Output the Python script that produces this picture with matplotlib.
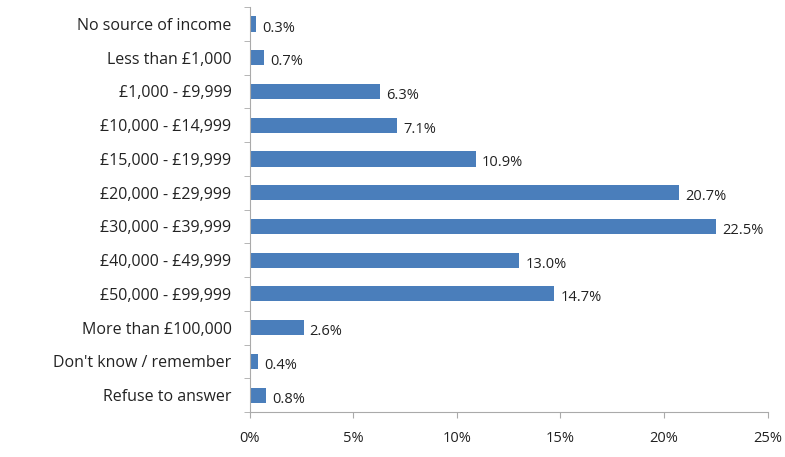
import matplotlib.pyplot as plt
import numpy as np

categories = ["No source of income", "Less than £1,000", "£1,000 - £9,999",
              "£10,000 - £14,999", "£15,000 - £19,999", "£20,000 - £29,999",
              "£30,000 - £39,999", "£40,000 - £49,999", "£50,000 - £99,999",
              "More than £100,000", "Don't know / remember", "Refuse to answer"]
values = [0.3, 0.7, 6.3, 7.1, 10.9, 20.7, 22.5, 13.0, 14.7, 2.6, 0.4, 0.8]
xticks = [0, 5, 10, 15, 20, 25]

plt.rcParams['font.family'] = ['Open Sans', 'DejaVu Sans']

fig = plt.figure(figsize=(7.85, 4.57), dpi=100)
ax = fig.add_axes([0.318, 0.0985, 0.66, 0.886])

y = np.arange(len(categories))
ax.barh(y, values, height=0.45, color='#4a7ebb')
for yi, v in zip(y, values):
    ax.text(v + 0.3, yi + 0.12, f"{v:.1f}%", va='center', ha='left', fontsize=10.5, color='#222222')

ax.set_ylim(len(categories) - 0.5, -0.5)
ax.set_yticks(y)
ax.set_yticklabels(categories, fontsize=11.5, color='#222222')
ax.set_yticks(np.arange(len(categories) + 1) - 0.5, minor=True)
ax.tick_params(axis='y', which='major', length=0, pad=13)
ax.tick_params(axis='y', which='minor', length=4, color='#aaaaaa', direction='out')

ax.set_xlim(0, 25)
ax.set_xticks(xticks)
ax.set_xticklabels([f"{t}%" for t in xticks], fontsize=10.5, color='#222222')
ax.tick_params(axis='x', length=4, color='#aaaaaa', direction='out', pad=10)

for s in ['top', 'right']:
    ax.spines[s].set_visible(False)
for s in ['left', 'bottom']:
    ax.spines[s].set_color('#aaaaaa')

fig.savefig('out.png', dpi=100)
